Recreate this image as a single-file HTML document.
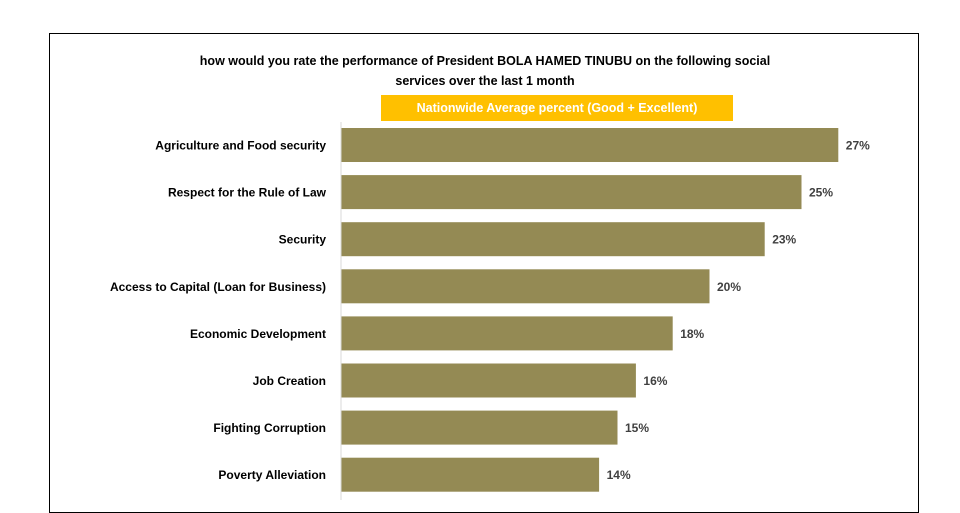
<!DOCTYPE html>
<html><head><meta charset="utf-8"><style>
body{margin:0;width:960px;height:500px;background:#fff;overflow:hidden;font-family:"Liberation Sans",sans-serif;position:relative}
</style></head><body>
<div style="position:absolute;left:49px;top:33px;width:870px;height:480px;border:1px solid #000;box-sizing:border-box"></div>
<div style="position:absolute;left:120px;top:51px;width:730px;text-align:center;font-size:12.5px;font-weight:bold;line-height:20px;color:#000">how would you rate the performance of President BOLA HAMED TINUBU on the following social<br>services over the last 1 month</div>
<div style="position:absolute;left:381px;top:95px;width:352px;height:26px;background:#FFC000;color:#fff;font-size:12.5px;font-weight:bold;text-align:center;line-height:26px">Nationwide Average percent (Good + Excellent)</div>
<svg id="chart" width="960" height="500" style="position:absolute;left:0;top:0"></svg>
<script>
const categories=["Agriculture and Food security","Respect for the Rule of Law","Security","Access to Capital (Loan for Business)","Economic Development","Job Creation","Fighting Corruption","Poverty Alleviation"];
const values=[27,25,23,20,18,16,15,14];
const labels=["27%","25%","23%","20%","18%","16%","15%","14%"];
const svg=document.getElementById('chart');
const NS='http://www.w3.org/2000/svg';
const x0=341,pxPer=18.4,top0=128,step=47.1,bh=34;
function xs(v){return x0+v*pxPer;}
function ys(i){return top0+i*step;}
const ax=document.createElementNS(NS,'line');
ax.setAttribute('x1',x0);ax.setAttribute('x2',x0);ax.setAttribute('y1',122);ax.setAttribute('y2',500);
ax.setAttribute('stroke','#d9d9d9');ax.setAttribute('stroke-width','1');


svg.appendChild(ax);
categories.forEach((c,i)=>{
 const r=document.createElementNS(NS,'rect');
 r.setAttribute('x',x0+0.5);r.setAttribute('y',ys(i));r.setAttribute('width',xs(values[i])-x0);r.setAttribute('height',bh);r.setAttribute('fill','#948A54');
 
 
 svg.appendChild(r);
 const t=document.createElementNS(NS,'text');
 t.setAttribute('x',326);t.setAttribute('y',ys(i)+bh/2+4.5);t.setAttribute('text-anchor','end');
 t.setAttribute('font-size','12');t.setAttribute('font-weight','bold');t.setAttribute('font-family','Liberation Sans, sans-serif');t.textContent=c;
 
 
 svg.appendChild(t);
 const v=document.createElementNS(NS,'text');
 v.setAttribute('x',xs(values[i])+8);v.setAttribute('y',ys(i)+bh/2+4.5);
 v.setAttribute('font-size','12');v.setAttribute('font-weight','bold');v.setAttribute('fill','#404040');v.setAttribute('font-family','Liberation Sans, sans-serif');v.textContent=labels[i];
 
 
 svg.appendChild(v);
});
</script>
</body></html>
